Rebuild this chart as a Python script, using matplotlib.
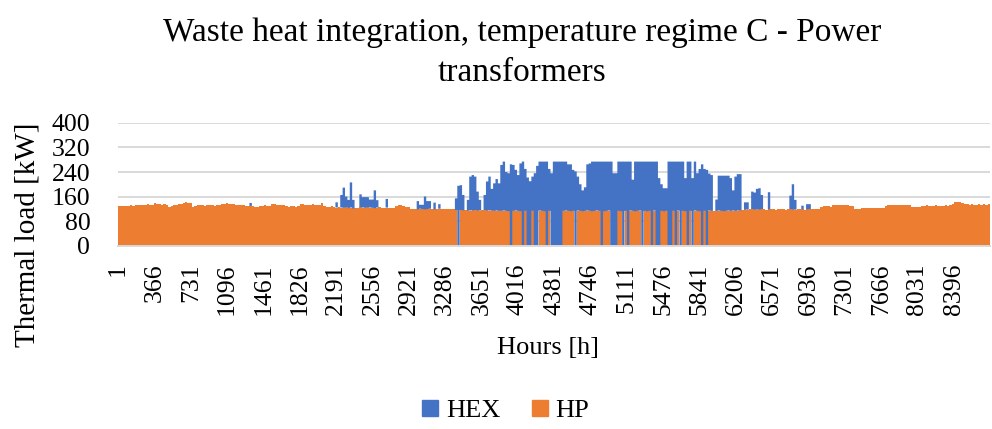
import numpy as np
import matplotlib
matplotlib.use("Agg")
import matplotlib.pyplot as plt
from matplotlib.lines import Line2D

# daily thermal load [kW], day 0 = hours 1..24
hp_load = [
    130, 128, 129, 130, 130, 131, 130, 133, 132, 133,
    132, 133, 134, 133, 132, 138, 137, 136, 133, 134,
    133, 127, 128, 133, 132, 134, 137, 139, 141, 140,
    138, 127, 128, 131, 132, 131, 130, 132, 131, 131,
    130, 131, 132, 135, 137, 138, 136, 135, 134, 132,
    131, 132, 131, 130, 130, 129, 130, 127, 127, 128,
    130, 131, 130, 129, 136, 137, 133, 132, 131, 132,
    128, 127, 129, 128, 127, 129, 135, 134, 133, 132,
    133, 134, 132, 133, 132, 139, 128, 127, 126, 128,
    127, 124, 125, 124, 123, 125, 122, 124, 121, 124,
    123, 125, 124, 123, 125, 124, 123, 122, 124, 125,
    123, 121, 124, 123, 122, 124, 130, 131, 133, 128,
    127, 126, 119, 120, 119, 118, 120, 119, 118, 119,
    120, 119, 118, 119, 120, 119, 118, 119, 120, 119,
    118, 116, 0, 116, 115, 116, 115, 114, 115, 116,
    115, 114, 115, 116, 115, 114, 115, 113, 114, 113,
    113, 114, 113, 112, 0, 113, 114, 113, 112, 0,
    113, 0, 0, 113, 0, 0, 114, 113, 112, 0,
    113, 0, 0, 0, 0, 0, 113, 114, 113, 112,
    113, 0, 114, 113, 112, 113, 114, 113, 112, 113,
    114, 113, 0, 112, 113, 114, 0, 0, 0, 113,
    112, 0, 113, 0, 114, 113, 112, 113, 114, 0,
    113, 112, 113, 0, 114, 0, 0, 113, 112, 113,
    0, 0, 113, 0, 114, 0, 113, 112, 0, 113,
    0, 114, 113, 112, 0, 113, 0, 114, 113, 112,
    113, 114, 113, 112, 113, 114, 113, 114, 113, 114,
    115, 117, 118, 117, 118, 119, 118, 117, 118, 119,
    118, 117, 118, 119, 118, 117, 118, 119, 118, 117,
    118, 119, 118, 117, 118, 119, 118, 117, 118, 119,
    118, 119, 118, 119, 126, 128, 129, 128, 127, 131,
    132, 131, 132, 133, 132, 131, 130, 128, 119, 120,
    119, 122, 121, 122, 123, 122, 121, 122, 123, 122,
    124, 128, 132, 131, 132, 133, 132, 131, 132, 133,
    132, 131, 127, 126, 125, 127, 128, 130, 131, 130,
    129, 130, 131, 130, 129, 130, 131, 130, 132, 137,
    141, 143, 142, 140, 136, 134, 133, 134, 133, 132,
    134, 133, 134, 133, 134,
]

hex_load = [
    0, 0, 0, 0, 0, 0, 0, 0, 0, 0,
    0, 0, 0, 0, 0, 0, 0, 0, 0, 0,
    0, 0, 0, 0, 0, 0, 0, 0, 0, 0,
    0, 0, 0, 0, 0, 0, 0, 0, 0, 0,
    0, 0, 0, 0, 0, 0, 0, 0, 0, 0,
    0, 0, 0, 0, 0, 10, 0, 0, 0, 0,
    0, 0, 0, 0, 0, 0, 0, 0, 0, 0,
    0, 0, 0, 0, 0, 0, 0, 0, 0, 0,
    0, 0, 0, 0, 0, 0, 0, 0, 0, 0,
    0, 17, 0, 41, 66, 35, 27, 82, 28, 0,
    0, 42, 34, 35, 33, 26, 27, 58, 24, 0,
    0, 0, 28, 0, 0, 0, 0, 0, 0, 0,
    0, 0, 0, 0, 0, 27, 13, 14, 42, 26,
    25, 0, 22, 0, 15, 0, 0, 0, 0, 0,
    0, 38, 195, 81, 50, 0, 34, 111, 115, 109,
    61, 35, 0, 49, 94, 111, 70, 90, 103, 90,
    150, 160, 127, 124, 265, 150, 133, 117, 156, 274,
    137, 222, 210, 112, 236, 260, 160, 161, 162, 274,
    137, 236, 274, 274, 274, 274, 161, 160, 152, 153,
    134, 242, 111, 87, 68, 77, 151, 155, 162, 161,
    160, 161, 274, 162, 161, 160, 274, 236, 236, 161,
    162, 274, 161, 274, 160, 102, 162, 161, 160, 274,
    161, 162, 161, 274, 160, 274, 220, 87, 75, 74,
    274, 274, 161, 274, 160, 274, 161, 108, 274, 161,
    220, 160, 123, 138, 265, 137, 247, 121, 117, 0,
    37, 114, 115, 116, 115, 114, 107, 66, 112, 119,
    118, 0, 23, 24, 0, 57, 55, 68, 69, 46,
    0, 0, 56, 0, 0, 0, 0, 0, 0, 0,
    0, 44, 82, 32, 0, 0, 12, 0, 17, 16,
    0, 0, 0, 0, 0, 0, 0, 0, 0, 0,
    0, 0, 0, 0, 0, 0, 0, 0, 0, 0,
    0, 0, 0, 0, 0, 0, 0, 0, 0, 0,
    0, 0, 0, 0, 0, 0, 0, 0, 0, 0,
    0, 0, 0, 0, 0, 0, 0, 0, 0, 0,
    0, 0, 0, 0, 0, 0, 0, 0, 0, 0,
    0, 0, 0, 0, 0, 0, 0, 0, 0, 0,
    0, 0, 0, 0, 0,
]

hour_ticks = list(range(1, 8761, 365))
y_ticks = [0, 80, 160, 240, 320, 400]

BLUE = "#4472C4"
ORANGE = "#ED7D31"
GRID = "#d9d9d9"

plt.rcParams["font.family"] = ["Liberation Serif", "DejaVu Serif"]

hp = np.array(hp_load, dtype=float)
hx = np.array(hex_load, dtype=float)
edges = 0.5 + 24 * np.arange(len(hp) + 1)

fig = plt.figure(figsize=(9.92, 4.29), dpi=100)
ax = fig.add_axes([0.119, 0.4277, 0.879, 0.2856])

ax.stairs(hp, edges, baseline=0, fill=True, color=ORANGE, lw=0)
ax.stairs(hp + hx, edges, baseline=hp, fill=True, color=BLUE, lw=0)

ax.set_xlim(0.5, 8760.5)
ax.set_ylim(0, 400)
ax.set_yticks(y_ticks)
ax.set_xticks(hour_ticks)
ax.set_xticklabels([str(h) for h in hour_ticks], rotation=90)
ax.tick_params(axis="both", length=0, labelsize=18.5)
ax.tick_params(axis="x", pad=13)
ax.tick_params(axis="y", pad=20)
ax.grid(axis="y", color=GRID, lw=1.4)
ax.set_axisbelow(True)
for side in ("top", "right", "left"):
    ax.spines[side].set_visible(False)
ax.spines["bottom"].set_color(GRID)
ax.spines["bottom"].set_linewidth(1.4)

fig.text(28 / 992, 0.452, "Thermal load [kW]", rotation=90,
         ha="center", va="center", fontsize=21)
fig.text(548 / 992, 0.189, "Hours [h]", ha="center", va="center", fontsize=19)
fig.text(522 / 992, 0.877,
         "Waste heat integration, temperature regime C - Power\ntransformers",
         ha="center", va="center", fontsize=24, linespacing=1.42)

handles = [Line2D([], [], marker="s", ls="", color=BLUE, markersize=11),
           Line2D([], [], marker="s", ls="", color=ORANGE, markersize=11)]
fig.legend(handles, ["HEX", "HP"], loc="center", bbox_to_anchor=(503 / 992, 0.044),
           ncol=2, frameon=False, fontsize=19, handletextpad=0.1,
           columnspacing=1.0, handlelength=1.0)

fig.savefig("out.png", dpi=100)
